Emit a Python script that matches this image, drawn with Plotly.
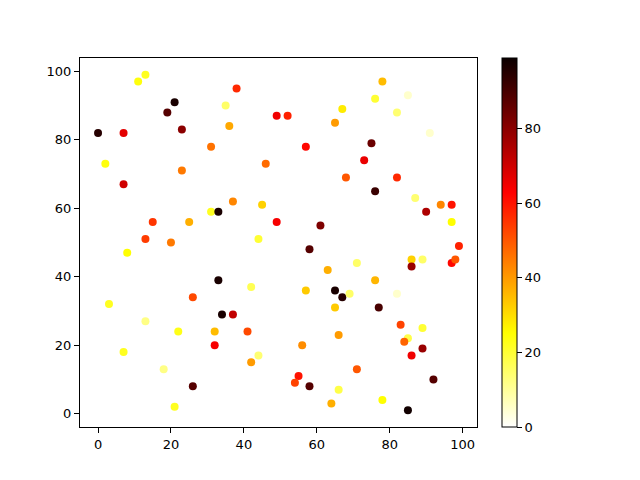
import plotly.graph_objects as go

x = [13, 11, 38, 21, 19, 35, 49, 0, 7, 23, 36, 31, 46, 2, 23, 7, 37, 45, 31, 33,
     49, 15, 25, 13, 20, 44, 78, 85, 76, 67, 82, 52, 65, 91, 57, 75, 73, 68, 82, 76,
     87, 94, 97, 90, 97, 61, 99, 58, 86, 89, 86, 97, 98, 63, 71, 76, 57, 65, 67, 69,
     82, 65, 77, 83, 89, 66, 85, 84, 56, 89, 86, 71, 55, 54, 58, 92, 66, 78, 64, 85,
     8, 33, 42, 26, 3, 34, 37, 13, 22, 32, 41, 32, 7, 44, 42, 18, 26, 21]
y = [99, 97, 95, 91, 88, 90, 87, 82, 82, 83, 84, 78, 73, 73, 71, 67, 62, 61, 59, 59,
     56, 56, 56, 51, 50, 51, 97, 93, 92, 89, 88, 87, 85, 82, 78, 79, 74, 69, 69, 65,
     63, 61, 61, 59, 56, 55, 49, 48, 45, 45, 43, 44, 45, 42, 44, 39, 36, 36, 34, 35,
     35, 31, 31, 26, 25, 23, 22, 21, 20, 19, 17, 13, 11, 9, 8, 10, 7, 4, 3, 1,
     47, 39, 37, 34, 32, 29, 29, 27, 24, 24, 24, 20, 18, 17, 15, 13, 8, 2]
c = [22, 24, 57, 97, 88, 15, 65, 95, 67, 80, 38, 46, 47, 24, 45, 70, 43, 32, 22, 97,
     64, 55, 37, 54, 45, 20, 35, 5, 20, 28, 14, 58, 40, 5, 62, 85, 66, 50, 57, 92,
     14, 43, 60, 75, 25, 82, 58, 88, 32, 15, 78, 62, 50, 37, 15, 36, 33, 97, 95, 15,
     5, 33, 90, 53, 20, 40, 18, 48, 42, 78, 65, 50, 60, 53, 88, 88, 18, 25, 37, 98,
     25, 97, 17, 52, 22, 97, 72, 12, 23, 35, 52, 64, 22, 14, 40, 12, 88, 22]

x_ticks = [0, 20, 40, 60, 80, 100]
y_ticks = [0, 20, 40, 60, 80, 100]
cbar_ticks = [0, 20, 40, 60, 80]

hot_r = [
    [0.0, "rgb(255,255,255)"],
    [0.253968, "rgb(255,255,0)"],
    [0.634921, "rgb(255,0,0)"],
    [1.0, "rgb(11,0,0)"],
]

font = dict(family="DejaVu Sans", size=13, color="black")

fig = go.Figure(go.Scatter(
    x=x, y=y, mode="markers",
    marker=dict(
        size=8, color=c, colorscale=hot_r, cmin=0, cmax=99,
        line=dict(width=0),
        colorbar=dict(
            x=1.063, xanchor="left", xref="paper", xpad=0, ypad=0,
            y=0.5, yanchor="middle", len=1.0, lenmode="fraction",
            thickness=15, thicknessmode="pixels",
            outlinewidth=1, outlinecolor="black",
            tickvals=cbar_ticks, ticks="outside", ticklen=5, tickwidth=1,
            tickcolor="black", tickfont=font,
        ),
    ),
    showlegend=False,
))

axis_common = dict(
    showgrid=False, zeroline=False, showline=True, linecolor="black", linewidth=1,
    mirror=True, ticks="outside", ticklen=5, tickwidth=1, tickcolor="black",
    tickfont=font,
)
fig.update_xaxes(range=[-4.95, 103.95], tickvals=x_ticks, **axis_common)
fig.update_yaxes(range=[-3.9, 103.9], tickvals=y_ticks, **axis_common)

fig.update_layout(
    width=632, height=472,
    margin=dict(l=72, r=163, t=50, b=53),
    plot_bgcolor="white", paper_bgcolor="white",
    font=font,
)

fig.write_html("out.html")
